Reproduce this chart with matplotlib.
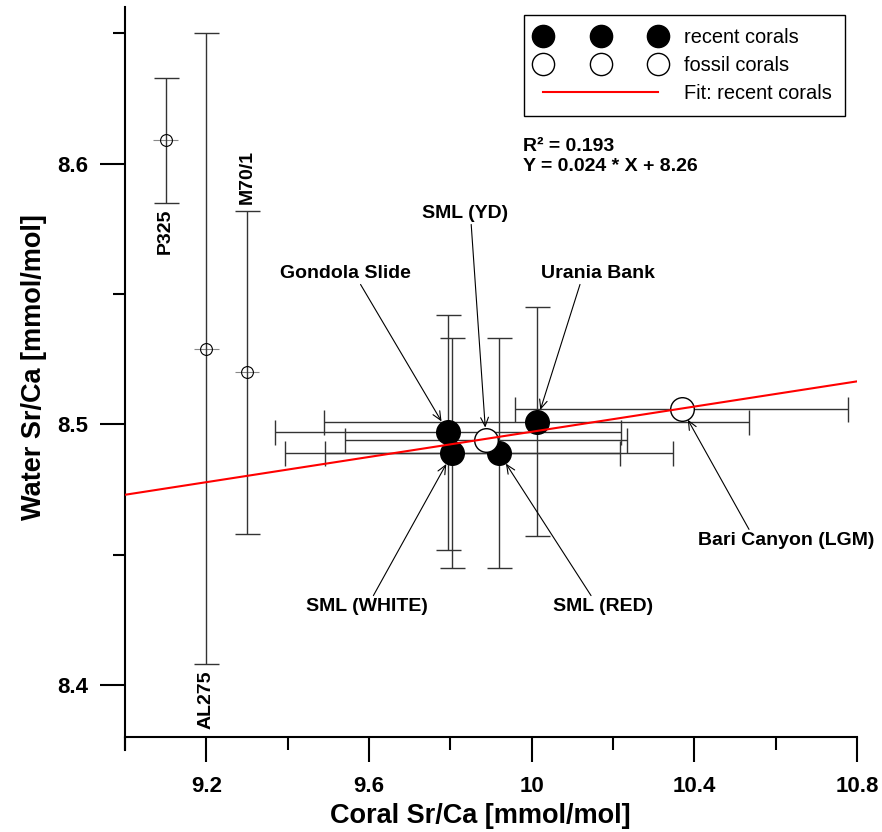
import matplotlib
matplotlib.use('Agg')
import matplotlib.pyplot as plt
from matplotlib.lines import Line2D
from matplotlib.ticker import MultipleLocator

plt.rcParams['font.family'] = ['Liberation Sans', 'DejaVu Sans']

# seawater samples from cruises (small open markers)
cruise_names = ['P325', 'AL275', 'M70/1']
cruise_x = [9.10, 9.20, 9.30]
cruise_y = [8.609, 8.529, 8.520]
cruise_xerr = [0.03, 0.03, 0.03]
cruise_yerr = [0.024, 0.121, 0.062]

# recent corals (filled)
recent_names = ['Gondola Slide', 'SML (WHITE)', 'SML (RED)', 'Urania Bank']
recent_x = [9.794, 9.805, 9.920, 10.012]
recent_y = [8.497, 8.489, 8.489, 8.501]
recent_xerr = [0.425, 0.412, 0.427, 0.522]
recent_yerr = [0.045, 0.044, 0.044, 0.044]

# fossil corals (open)
fossil_names = ['SML (YD)', 'Bari Canyon (LGM)']
fossil_x = [9.888, 10.369]
fossil_y = [8.494, 8.506]
fossil_xerr = [0.346, 0.410]

# linear fit through the recent corals
fit_x = [9.0, 10.8]
fit_y = [8.473, 8.5165]
fit_r2 = 0.193
fit_slope = 0.024
fit_intercept = 8.26

# where the annotation texts sit (data coords) and where on the text the arrow leaves
label_pos = {
    'Gondola Slide': (9.543, 8.558),
    'SML (YD)': (9.836, 8.581),
    'Urania Bank': (10.163, 8.558),
    'SML (WHITE)': (9.595, 8.430),
    'SML (RED)': (10.175, 8.430),
    'Bari Canyon (LGM)': (10.625, 8.4554),
}
arrow_relpos = {
    'Gondola Slide': (0.6, 0.0),
    'SML (YD)': (0.57, 0.0),
    'Urania Bank': (0.35, 0.0),
    'SML (WHITE)': (0.54, 1.0),
    'SML (RED)': (0.4, 1.0),
    'Bari Canyon (LGM)': (0.3, 1.0),
}
cruise_label_side = ['below', 'below', 'above']

bar_color = '#333333'

fig = plt.figure(figsize=(8.82, 8.32), dpi=100)
ax = fig.add_axes([125 / 882, 1 - 750 / 832, 732 / 882, 743 / 832])

# cruise samples
ax.errorbar(cruise_x, cruise_y, xerr=cruise_xerr, fmt='none',
            ecolor='#888888', elinewidth=0.8, capsize=0, zorder=2)
ax.errorbar(cruise_x, cruise_y, yerr=cruise_yerr, fmt='none',
            ecolor=bar_color, elinewidth=1.0, capsize=9, capthick=1.0, zorder=2)
ax.plot(cruise_x, cruise_y, ls='none', marker='o', ms=8.5, mfc='none',
        mec='black', mew=0.8, zorder=3)
for name, x, y, err, side in zip(cruise_names, cruise_x, cruise_y,
                                 cruise_yerr, cruise_label_side):
    if side == 'below':
        ax.annotate(name, (x, y - err), xytext=(0, -4.5), textcoords='offset points',
                    rotation=90, ha='center', va='top', fontsize=14, fontweight='bold')
    else:
        ax.annotate(name, (x, y + err), xytext=(0, 4.5), textcoords='offset points',
                    rotation=90, ha='center', va='bottom', fontsize=14, fontweight='bold')

# error bars of the corals
ax.errorbar(recent_x, recent_y, xerr=recent_xerr, yerr=recent_yerr, fmt='none',
            ecolor=bar_color, elinewidth=1.0, capsize=9, capthick=1.0, zorder=2)
ax.errorbar(fossil_x, fossil_y, xerr=fossil_xerr, fmt='none',
            ecolor=bar_color, elinewidth=1.0, capsize=9, capthick=1.0, zorder=2)

# coral markers
ax.plot(recent_x, recent_y, ls='none', marker='o', ms=17, mfc='black',
        mec='black', zorder=4)
ax.plot(fossil_x, fossil_y, ls='none', marker='o', ms=17, mfc='white',
        mec='black', mew=1.0, zorder=4)

# fit line
ax.plot(fit_x, fit_y, color='red', lw=1.5, zorder=5)

# annotations with arrows
for names, xs, ys in [(recent_names, recent_x, recent_y),
                      (fossil_names, fossil_x, fossil_y)]:
    for name, x, y in zip(names, xs, ys):
        ax.annotate(
            name, (x, y), xytext=label_pos[name], textcoords='data',
            ha='center', va='center', fontsize=14, fontweight='bold',
            arrowprops=dict(arrowstyle='->,head_length=0.45,head_width=0.2',
                            color='black', lw=0.8, shrinkA=0, shrinkB=9,
                            relpos=arrow_relpos[name]),
            zorder=6,
        )

ax.text(0.5437, 0.8236, f'R\u00b2 = {fit_r2}', transform=ax.transAxes,
        ha='left', va='top', fontsize=14, fontweight='bold')
ax.text(0.5437, 0.7966, f'Y = {fit_slope} * X + {fit_intercept}',
        transform=ax.transAxes, ha='left', va='top', fontsize=14, fontweight='bold')

# legend
handles = [
    Line2D([], [], ls='none', marker='o', ms=16, mfc='black', mec='black'),
    Line2D([], [], ls='none', marker='o', ms=16, mfc='white', mec='black', mew=1.0),
    Line2D([], [], color='red', lw=1.5),
]
legend = ax.legend(
    handles, ['recent corals', 'fossil corals', 'Fit: recent corals'],
    loc='upper right', bbox_to_anchor=(0.9836, 0.9892), borderaxespad=0,
    numpoints=3, handlelength=6.35, handletextpad=1.0, borderpad=0.65,
    labelspacing=0.45, fancybox=False, edgecolor='black', framealpha=1,
    prop={'size': 14.4},
)
legend.get_frame().set_linewidth(1.0)

# axes
ax.set_xlim(9.0, 10.8)
ax.set_ylim(8.3751, 8.6601)
ax.spines['top'].set_visible(False)
ax.spines['right'].set_visible(False)
ax.spines['bottom'].set_position(('data', 8.38))
for side in ['left', 'bottom']:
    ax.spines[side].set_linewidth(1.5)

ax.xaxis.set_major_locator(MultipleLocator(0.4))
ax.xaxis.set_minor_locator(MultipleLocator(0.2))
ax.yaxis.set_major_locator(MultipleLocator(0.1))
ax.yaxis.set_minor_locator(MultipleLocator(0.05))
ax.xaxis.set_major_formatter(lambda v, pos: f'{v:g}' if v > 9.1 else '')
ax.yaxis.set_major_formatter(lambda v, pos: f'{v:g}')
ax.tick_params(which='major', direction='out', length=18, width=1.5, labelsize=16)
ax.tick_params(which='minor', direction='out', length=9, width=1.5)
ax.tick_params(axis='x', which='major', pad=10)
ax.tick_params(axis='y', which='major', pad=8.5)
for label in ax.get_xticklabels() + ax.get_yticklabels():
    label.set_fontweight('bold')

ax.set_xlabel('Coral Sr/Ca [mmol/mol]', fontsize=19.5, fontweight='bold')
ax.set_ylabel('Water Sr/Ca [mmol/mol]', fontsize=19.5, fontweight='bold')
ax.xaxis.set_label_coords(0.485, -0.0713)
ax.xaxis.label.set_va('top')
ax.yaxis.set_label_coords(-0.1066, 0.5155)

fig.savefig('out.png', dpi=100)
